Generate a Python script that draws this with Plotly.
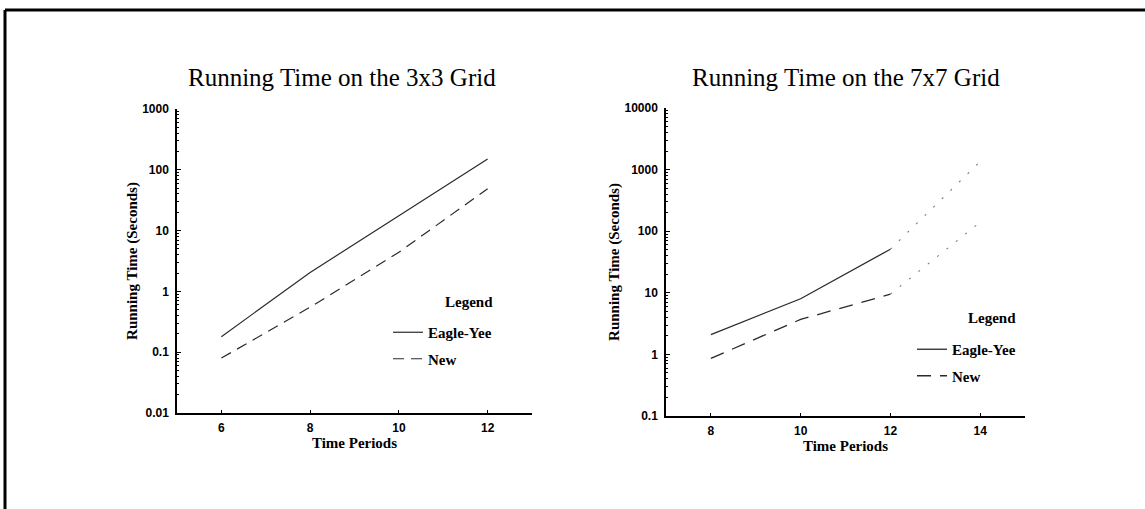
import plotly.graph_objects as go

# ---- data ----
periods_3x3 = [6, 8, 10, 12]
eagle_yee_3x3 = [0.18, 2.05, 17.5, 150]
new_3x3 = [0.08, 0.55, 4.4, 49]

periods_7x7 = [8, 10, 12, 14]
eagle_yee_7x7 = [2.1, 8.0, 51, 1350]
new_7x7 = [0.86, 3.7, 9.5, 140]

ticks_3x3 = [0.01, 0.1, 1, 10, 100, 1000]
ticks_7x7 = [0.1, 1, 10, 100, 1000, 10000]
tick_text_3x3 = ["0.01", "0.1", "1", "10", "100", "1000"]
tick_text_7x7 = ["0.1", "1", "10", "100", "1000", "10000"]

titles = ["Running Time on the 3x3 Grid", "Running Time on the 7x7 Grid"]

W, H = 1145, 509
SERIF = "Liberation Serif"
LINE = "#2a2a2a"

fig = go.Figure()

# Left chart
fig.add_trace(go.Scatter(x=periods_3x3, y=eagle_yee_3x3, mode="lines", name="Eagle-Yee", legendgroup="a",
                         line=dict(color=LINE, width=1.2), xaxis="x", yaxis="y", legend="legend"))
fig.add_trace(go.Scatter(x=periods_3x3, y=new_3x3, mode="lines", name="New", legendgroup="b",
                         line=dict(color=LINE, width=1.2, dash="11px,7px"), xaxis="x", yaxis="y", legend="legend"))

# Right chart (solid part to 12, dotted extension to 14)
fig.add_trace(go.Scatter(x=periods_7x7[:3], y=eagle_yee_7x7[:3], mode="lines", name="Eagle-Yee", legendgroup="c",
                         line=dict(color=LINE, width=1.3), xaxis="x2", yaxis="y2", legend="legend2"))
fig.add_trace(go.Scatter(x=periods_7x7[:3], y=new_7x7[:3], mode="lines", name="New", legendgroup="d",
                         line=dict(color=LINE, width=1.3, dash="14px,9px"), xaxis="x2", yaxis="y2", legend="legend2"))
fig.add_trace(go.Scatter(x=periods_7x7[2:], y=eagle_yee_7x7[2:], mode="lines", showlegend=False,
                         line=dict(color="#777777", width=1.1, dash="2px,10px"), xaxis="x2", yaxis="y2"))
fig.add_trace(go.Scatter(x=periods_7x7[2:], y=new_7x7[2:], mode="lines", showlegend=False,
                         line=dict(color="#777777", width=1.1, dash="2px,10px"), xaxis="x2", yaxis="y2"))

minor_3x3 = [m * 10 ** e for e in range(-2, 3) for m in range(2, 10)]
minor_7x7 = [m * 10 ** e for e in range(-1, 4) for m in range(2, 10)]

tickfont = dict(family="Liberation Sans", size=12, color="black", weight="bold")
titlefont = dict(family=SERIF, size=15, color="black", weight="bold")
legfont = dict(family=SERIF, size=15, weight="bold", color="black")

def xaxis(dom, rng, vals, anchor):
    return dict(domain=dom, range=rng, tickvals=vals, ticks="inside", ticklen=3, tickcolor="black",
                showline=True, linecolor="black", linewidth=2, showgrid=False, zeroline=False,
                tickfont=tickfont, anchor=anchor, ticklabelstandoff=3, automargin=False,
                title=dict(text="Time Periods", font=titlefont, standoff=1))

def yaxis(dom, rng, vals, texts, minor, anchor):
    return dict(domain=dom, type="log", range=rng, tickvals=vals, ticktext=texts,
                ticks="inside", ticklen=4, tickcolor="black",
                minor=dict(tickvals=minor, ticks="inside", ticklen=2, tickcolor="black", showgrid=False),
                showline=True, linecolor="black", linewidth=1.5, showgrid=False, zeroline=False,
                tickfont=tickfont, anchor=anchor, ticklabelstandoff=4, automargin=False,
                title=dict(text="Running Time (Seconds)", font=titlefont, standoff=1))

def legend(xpx, ytop_px):
    return dict(x=xpx / W, y=(H - ytop_px) / H, xanchor="left", yanchor="top",
                bgcolor="rgba(0,0,0,0)", itemwidth=30, tracegroupgap=4, font=legfont)

def text_ann(text, xpx, ypx, font):
    return dict(text=text, x=xpx / W, y=(H - ypx) / H, xref="paper", yref="paper",
                xanchor="center", yanchor="middle", showarrow=False, font=font)

fig.update_layout(
    width=W, height=H, autosize=False,
    margin=dict(l=0, r=0, t=0, b=0, pad=0, autoexpand=False),
    paper_bgcolor="white", plot_bgcolor="white",
    xaxis=xaxis([177 / W, 532 / W], [5, 13], periods_3x3, "y"),
    yaxis=yaxis([(H - 413) / H, (H - 109) / H], [-2, 3], ticks_3x3, tick_text_3x3, minor_3x3, "x"),
    xaxis2=xaxis([666 / W, 1025 / W], [7, 15], periods_7x7, "y2"),
    yaxis2=yaxis([(H - 416) / H, (H - 108) / H], [-1, 4], ticks_7x7, tick_text_7x7, minor_7x7, "x2"),
    legend=legend(388, 316),
    legend2=legend(912, 333),
    annotations=[
        text_ann(titles[0], 342, 77, dict(family=SERIF, size=25, color="black")),
        text_ann(titles[1], 846, 77, dict(family=SERIF, size=25, color="black")),
        text_ann("Legend", 469, 302, legfont),
        text_ann("Legend", 992, 318, legfont),
    ],
    shapes=[
        dict(type="line", xref="paper", yref="paper", x0=5 / W, x1=1, y0=(H - 10) / H, y1=(H - 10) / H,
             line=dict(color="black", width=3)),
        dict(type="line", xref="paper", yref="paper", x0=5 / W, x1=5 / W, y0=0, y1=(H - 10) / H,
             line=dict(color="black", width=3)),
    ],
)

fig.write_html(
    "out.html",
    config={"displayModeBar": False},
    post_script=(
        "document.documentElement.style.margin='0';"
        "document.documentElement.style.overflow='hidden';"
        "document.body.style.margin='0';"
        "document.body.style.overflow='hidden';"
    ),
)
